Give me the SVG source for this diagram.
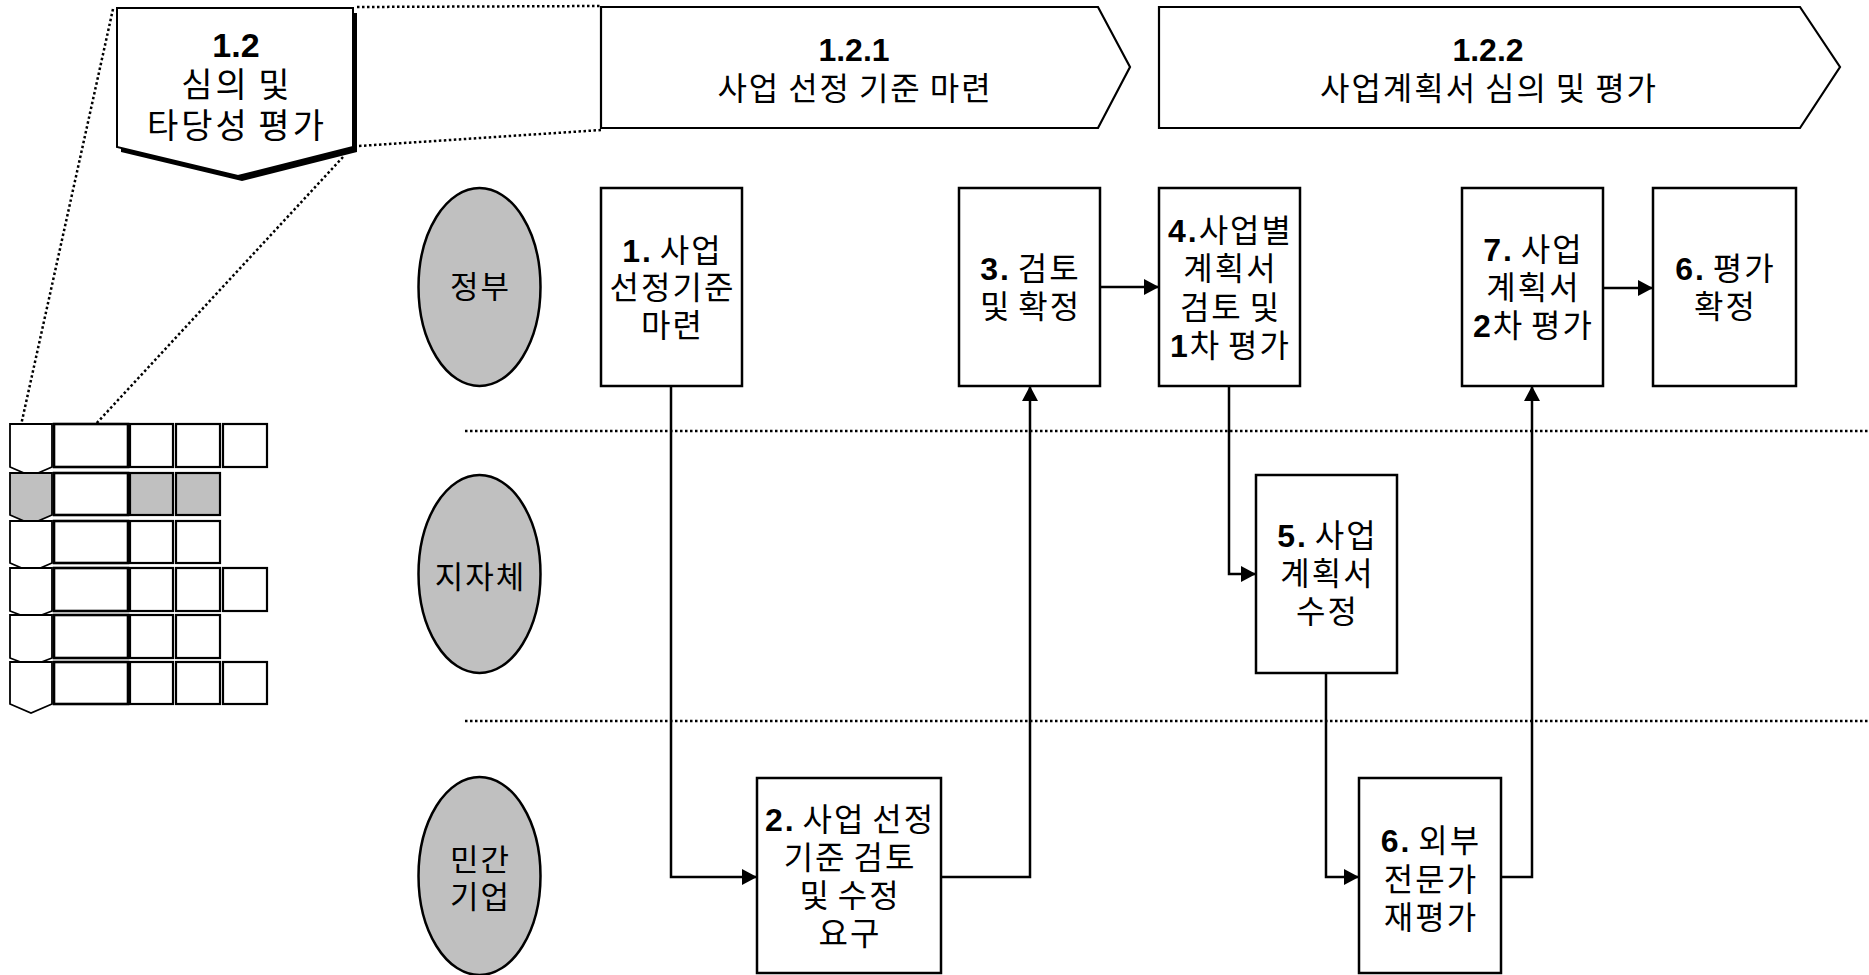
<svg xmlns="http://www.w3.org/2000/svg" width="1869" height="975" viewBox="0 0 1869 975">
  <style>
    text { font-family: 'Liberation Sans', 'Noto Sans CJK KR', sans-serif; fill: #000; text-anchor: middle; }
    .hdr { font-size: 32px; letter-spacing: 2px; word-spacing: -3px; }
    .hdrn { font-size: 32px; }
    .big { font-size: 34px; letter-spacing: 3px; word-spacing: -4px; }
    .bign { font-size: 34px; }
    .box { fill: #fff; stroke: #000; stroke-width: 2.5; }
    .bt { font-size: 32px; letter-spacing: 2px; word-spacing: -4px; }
    .lane { fill: #c0c0c0; stroke: #000; stroke-width: 2.5; }
    .lt { font-size: 31px; letter-spacing: 2px; }
    .b { font-weight: bold; }
    .dot { fill: none; stroke: #000; stroke-width: 2.5; stroke-dasharray: 2.5 2.5; }
    .conn { fill: none; stroke: #000; stroke-width: 2.5; marker-end: url(#arr); }
    .mp { fill: #fff; stroke: #000; stroke-width: 1.8; }
    .mpg { fill: #c0c0c0; stroke: #000; stroke-width: 1.8; }
    .mr { fill: #fff; stroke: #000; stroke-width: 2.6; }
    .ms { fill: #fff; stroke: #000; stroke-width: 2.2; }
    .msg { fill: #c0c0c0; stroke: #000; stroke-width: 2.2; }
  </style>
  <defs>
    <marker id="arr" markerUnits="userSpaceOnUse" markerWidth="16" markerHeight="16" refX="15" refY="8" orient="auto">
      <path d="M0,0 L15,8 L0,16 z" fill="#000"/>
    </marker>
  </defs>

  <!-- dotted guide lines -->
  <g id="guides">
    <line class="dot" x1="357" y1="7" x2="600" y2="6"/>
    <line class="dot" x1="359" y1="146" x2="601" y2="130"/>
    <line class="dot" x1="113" y1="9" x2="12" y2="466"/>
    <line class="dot" x1="343" y1="157" x2="57" y2="466"/>
    <line class="dot" x1="465" y1="431" x2="1869" y2="431"/>
    <line class="dot" x1="465" y1="721" x2="1869" y2="721"/>
  </g>

  <!-- mini map -->
  <g id="mini-map">
    <polygon class="mp" points="10,424 52,424 52,467 31,476 10,467"/>
    <rect class="mr" x="54" y="424" width="74" height="43"/>
    <rect class="ms" x="130" y="424" width="43" height="43"/>
    <rect class="ms" x="176" y="424" width="44" height="43"/>
    <rect class="ms" x="223" y="424" width="44" height="43"/>

    <polygon class="mpg" points="10,473 52,473 52,515 31,524 10,515"/>
    <rect class="mr" x="54" y="473" width="74" height="42"/>
    <rect class="msg" x="130" y="473" width="43" height="42"/>
    <rect class="msg" x="176" y="473" width="44" height="42"/>

    <polygon class="mp" points="10,521 52,521 52,563 31,572 10,563"/>
    <rect class="mr" x="54" y="521" width="74" height="42"/>
    <rect class="ms" x="130" y="521" width="43" height="42"/>
    <rect class="ms" x="176" y="521" width="44" height="42"/>

    <polygon class="mp" points="10,568 52,568 52,611 31,619 10,611"/>
    <rect class="mr" x="54" y="568" width="74" height="43"/>
    <rect class="ms" x="130" y="568" width="43" height="43"/>
    <rect class="ms" x="176" y="568" width="44" height="43"/>
    <rect class="ms" x="223" y="568" width="44" height="43"/>

    <polygon class="mp" points="10,615 52,615 52,658 31,666 10,658"/>
    <rect class="mr" x="54" y="615" width="74" height="43"/>
    <rect class="ms" x="130" y="615" width="43" height="43"/>
    <rect class="ms" x="176" y="615" width="44" height="43"/>

    <polygon class="mp" points="10,662 52,662 52,704 31,713 10,704"/>
    <rect class="mr" x="54" y="662" width="74" height="42"/>
    <rect class="ms" x="130" y="662" width="43" height="42"/>
    <rect class="ms" x="176" y="662" width="44" height="42"/>
    <rect class="ms" x="223" y="662" width="44" height="42"/>
  </g>

  <!-- header shapes -->
  <g id="phase-1-2">
    <polygon points="121,13 357,13 357,152 242,181 121,152" fill="#000"/>
    <polygon points="117,8 353,8 353,147 238,176 117,147" fill="#fff" stroke="#000" stroke-width="2"/>
    <text class="bign b" x="236" y="57">1.2</text>
    <text class="big" x="237" y="97">심의 및</text>
    <text class="big" x="237" y="138">타당성 평가</text>
  </g>
  <g id="phase-1-2-1">
    <polygon points="601,7 1098,7 1130,67 1098,128 601,128" fill="#fff" stroke="#000" stroke-width="2.2"/>
    <text class="hdrn b" x="854" y="61">1.2.1</text>
    <text class="hdr" x="855" y="100">사업 선정 기준 마련</text>
  </g>
  <g id="phase-1-2-2">
    <polygon points="1159,7 1800,7 1840,67 1800,128 1159,128" fill="#fff" stroke="#000" stroke-width="2.2"/>
    <text class="hdrn b" x="1488" y="61">1.2.2</text>
    <text class="hdr" x="1489" y="100">사업계획서 심의 및 평가</text>
  </g>

  <!-- lanes -->
  <g id="lane-gov">
    <ellipse class="lane" cx="479.5" cy="287" rx="61" ry="99"/>
    <text class="lt" x="480.5" y="298">정부</text>
  </g>
  <g id="lane-local">
    <ellipse class="lane" cx="479.5" cy="574" rx="61" ry="99"/>
    <text class="lt" x="480.5" y="588">지자체</text>
  </g>
  <g id="lane-private">
    <ellipse class="lane" cx="479.5" cy="876" rx="61" ry="99"/>
    <text class="lt" x="480.5" y="871">민간</text>
    <text class="lt" x="480.5" y="908">기업</text>
  </g>

  <!-- connectors -->
  <g id="connectors">
    <path class="conn" d="M671,386 V877 H757"/>
    <path class="conn" d="M941,877 H1030 V386"/>
    <path class="conn" d="M1100,287 H1159"/>
    <path class="conn" d="M1229,386 V574 H1256"/>
    <path class="conn" d="M1326,673 V877 H1359"/>
    <path class="conn" d="M1501,877 H1532 V386"/>
    <path class="conn" d="M1603,288 H1653"/>
  </g>

  <!-- process boxes -->
  <g id="step-1">
    <rect class="box" x="601" y="188" width="141" height="198"/>
    <text class="bt" x="672.5" y="262"><tspan class="b">1.</tspan> 사업</text>
    <text class="bt" x="672.5" y="299">선정기준</text>
    <text class="bt" x="672.5" y="337">마련</text>
  </g>
  <g id="step-2">
    <rect class="box" x="757" y="778" width="184" height="195"/>
    <text class="bt" x="850" y="831"><tspan class="b">2.</tspan> 사업 선정</text>
    <text class="bt" x="850" y="869">기준 검토</text>
    <text class="bt" x="850" y="907">및 수정</text>
    <text class="bt" x="850" y="945">요구</text>
  </g>
  <g id="step-3">
    <rect class="box" x="959" y="188" width="141" height="198"/>
    <text class="bt" x="1030.5" y="280"><tspan class="b">3.</tspan> 검토</text>
    <text class="bt" x="1030.5" y="318">및 확정</text>
  </g>
  <g id="step-4">
    <rect class="box" x="1159" y="188" width="141" height="198"/>
    <text class="bt" x="1230.5" y="242"><tspan class="b">4.</tspan>사업별</text>
    <text class="bt" x="1230.5" y="280">계획서</text>
    <text class="bt" x="1230.5" y="319">검토 및</text>
    <text class="bt" x="1230.5" y="357"><tspan class="b">1</tspan>차 평가</text>
  </g>
  <g id="step-5">
    <rect class="box" x="1256" y="475" width="141" height="198"/>
    <text class="bt" x="1327.5" y="547"><tspan class="b">5.</tspan> 사업</text>
    <text class="bt" x="1327.5" y="585">계획서</text>
    <text class="bt" x="1327.5" y="623">수정</text>
  </g>
  <g id="step-6-external">
    <rect class="box" x="1359" y="778" width="142" height="195"/>
    <text class="bt" x="1431" y="852"><tspan class="b">6.</tspan> 외부</text>
    <text class="bt" x="1431" y="891">전문가</text>
    <text class="bt" x="1431" y="929">재평가</text>
  </g>
  <g id="step-7">
    <rect class="box" x="1462" y="188" width="141" height="198"/>
    <text class="bt" x="1533.5" y="261"><tspan class="b">7.</tspan> 사업</text>
    <text class="bt" x="1533.5" y="299">계획서</text>
    <text class="bt" x="1533.5" y="337"><tspan class="b">2</tspan>차 평가</text>
  </g>
  <g id="step-6-confirm">
    <rect class="box" x="1653" y="188" width="143" height="198"/>
    <text class="bt" x="1725.5" y="280"><tspan class="b">6.</tspan> 평가</text>
    <text class="bt" x="1725.5" y="318">확정</text>
  </g>
</svg>
